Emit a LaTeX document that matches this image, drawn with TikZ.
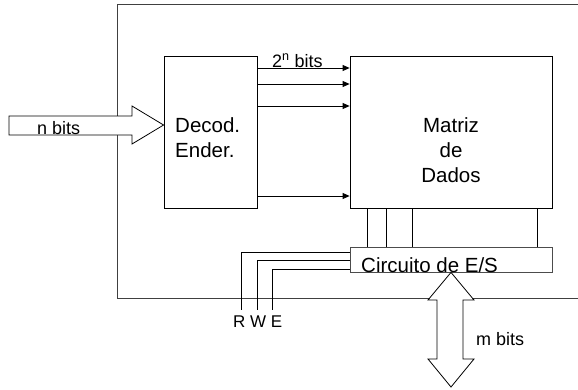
\documentclass[tikz,border=0pt]{standalone}
\usepackage{fontspec}
\setmainfont{Liberation Sans}
\usetikzlibrary{arrows.meta,calc}

\begin{document}
\begin{tikzpicture}[
  x=1pt, y=-1pt,
  bigtxt/.style={font=\fontsize{20.5}{25}\selectfont, inner sep=0pt},
  smalltxt/.style={font=\fontsize{18}{21}\selectfont, inner sep=0pt},
  blk/.style={rectangle, draw, line width=0.8pt, inner sep=0pt},
  iotblk/.style={rectangle, draw=black!70, line width=0.8pt, inner sep=0pt},
  frame/.style={draw=black!75, line width=0.8pt},
  wire/.style={line width=0.8pt},
  sigarrow/.style={-{Triangle[length=7pt,width=6pt]}, line width=0.8pt},
  fatarrow/.style={draw, fill=white, line width=0.8pt, line join=miter}
]
\useasboundingbox (0,0) rectangle (578,389);

% moldura da memoria
\draw[frame] (578,4) -- (117,4) -- (117,298) -- (578,298);

\node[blk, minimum width=93pt, minimum height=152pt]  (dec)  at (210.5,132) {};
\node[blk, minimum width=202pt, minimum height=152pt] (mat)  at (451,132)   {};
\node[iotblk, minimum width=202pt, minimum height=25pt] (circ) at (451,259.5) {};

\node[bigtxt, anchor=north west, align=left] (dectxt) at (175,117) {Decod.\\Ender.};
\node[bigtxt, align=center]                  (mattxt) at (451,150) {Matriz\\de\\Dados};
\node[bigtxt, anchor=base west]              (circtxt) at (361,272) {Circuito de E/S};

% linhas de palavra
\foreach \y in {68,84,106,196}
  \draw[sigarrow] (dec.east |- 0,\y) -- (mat.west |- 0,\y);
\node[smalltxt, anchor=base west] (wordlbl) at (272,67) {2\textsuperscript{n} bits};

% colunas da matriz
\foreach \x in {367,386,412,537}
  \draw[wire] (mat.south -| \x,0) -- (circ.north -| \x,0);

% sinais de controle
\coordinate (rEnd) at (241,310);
\coordinate (wEnd) at (257,310);
\coordinate (eEnd) at (272,310);
\draw[wire] (circ.west |- 0,252) -| (rEnd);
\draw[wire] (circ.west |- 0,260) -| (wEnd);
\draw[wire] (circ.west |- 0,269) -| (eEnd);
\node[smalltxt, font=\fontsize{17}{20}\selectfont, anchor=base west] (ctrllbl) at (233,327) {R W E};

% barramento de endereco
\draw[fatarrow] (9,116) -- (132,116) -- (132,106) -- (dec.west |- 0,125)
  -- (132,144) -- (132,135) -- (9,135) -- cycle;
\node[smalltxt, anchor=base west] (addrlbl) at (37,134) {n bits};

% barramento de dados
\draw[fatarrow] (circ.south) -- (474,300) -- (463,300) -- (463,359) -- (474,359)
  -- (451,387) -- (428,359) -- (437,359) -- (437,300) -- (428,300) -- cycle;
\node[smalltxt, anchor=base west] (datalbl) at (476,345) {m bits};

\end{tikzpicture}
\end{document}
